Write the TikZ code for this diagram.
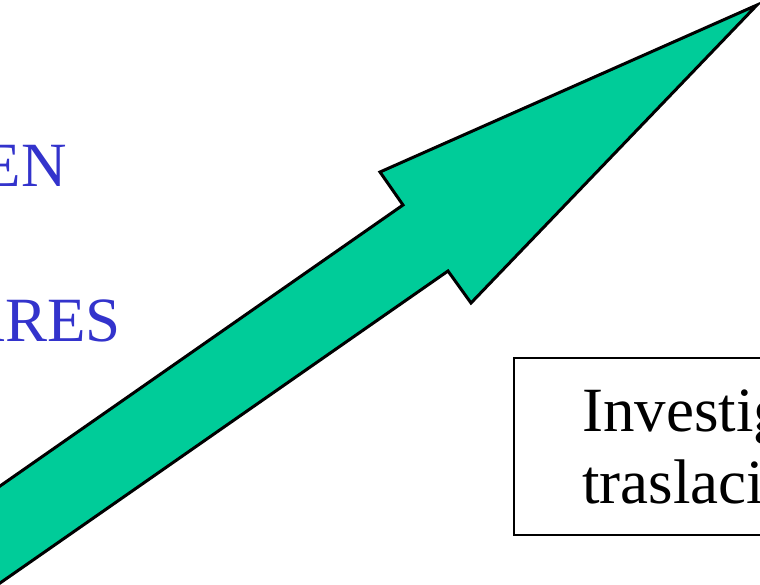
\documentclass[tikz,border=0pt]{standalone}
\usepackage{fontspec}
\setmainfont{Liberation Serif}
\definecolor{arrowgreen}{RGB}{0,204,153}
\definecolor{textblue}{RGB}{51,51,204}
\begin{document}
\begin{tikzpicture}[x=1pt,y=-1pt,
  bigtext/.style={font=\fontsize{63}{72}\selectfont, inner sep=0pt},
  bluetext/.style={bigtext, text=textblue},
  framebox/.style={draw=black, line width=2.2pt, inner sep=0pt, anchor=north west}]
\useasboundingbox (0,0) rectangle (760,584);
\clip (0,0) rectangle (760,584);
\fill[white] (0,0) rectangle (760,584);
% arrow
\draw[fill=arrowgreen, line width=3pt, line join=miter]
  (-20,500) -- (403,205) -- (380,172) -- (757,5) -- (471,303) -- (448,271) -- (-20,597) -- cycle;
% blue texts
\node[bluetext, anchor=base east] (en) at (67,186) {EN};
\node[bluetext, anchor=base east] (ares) at (121,341) {ARES};
% box
\node[framebox, minimum width=320pt, minimum height=177pt] (box) at (513,357) {};
\node[bigtext, anchor=base west] (l1) at (582,431) {Investig};
\node[bigtext, anchor=base west] (l2) at (582,503) {traslaci};
\end{tikzpicture}
\end{document}
